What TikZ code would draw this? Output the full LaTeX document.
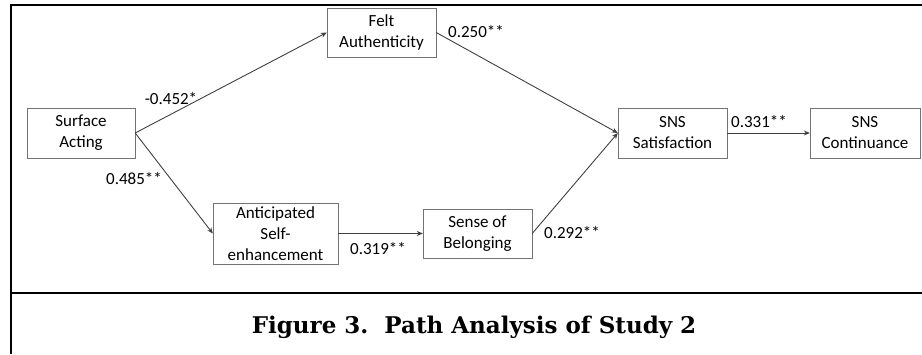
\documentclass[tikz,border=0pt]{standalone}
\usepackage{fontspec}
\usepackage{tikz}
\usetikzlibrary{arrows.meta,positioning,calc}
\newfontfamily\boxfont{Carlito}
\newfontfamily\capfont{DejaVu Serif}
\tikzstyle{pathbox}=[draw=black!55,minimum height=50pt,inner sep=0pt,align=center,font=\boxfont\fontsize{17}{21}\selectfont]
\tikzstyle{coef}=[inner sep=0pt,font=\boxfont\fontsize{17}{21}\selectfont]
\tikzstyle{link}=[draw=black!75,line width=0.9pt,-{Stealth[length=6pt,width=5pt]}]

\begin{document}
\begin{tikzpicture}[x=1pt,y=1pt,frame/.style={line width=2.2pt}]
    \useasboundingbox (0,0) rectangle (922,354);
    % frame and caption
    \draw [frame] (11,0) -- (11,349) -- (922,349);
    \draw [frame] (11,61) -- (922,61);
    \node [anchor=base,inner sep=0pt,font=\capfont\bfseries\fontsize{23}{28}\selectfont] (cap) at (474,21) {Figure 3.~~Path Analysis of Study 2};
    % boxes
    \node [pathbox,minimum width=108pt] (sa) at (81,221) {Surface\\Acting};
    \node [pathbox,minimum width=109pt,minimum height=49pt] (fa) at (381.5,321.5) {Felt\\Authenticity};
    \node [pathbox,minimum width=125pt,minimum height=61pt] (ase) at (275.5,120.5) {Anticipated\\Self-\\enhancement};
    \node [pathbox,minimum width=109pt,minimum height=49pt] (sob) at (477.5,120.5) {Sense of\\Belonging};
    \node [pathbox,minimum width=109pt] (sat) at (672.5,221) {SNS\\Satisfaction};
    \node [pathbox,minimum width=110pt] (con) at (865,221) {SNS\\Continuance};
    % paths
    \draw [link] (sa.east) -- (fa.west);
    \draw [link] (sa.east) -- (ase.west);
    \draw [link] (fa.east) -- (sat.west);
    \draw [link] (ase.east) -- (sob.west);
    \draw [link] (sob.east) -- (sat.west);
    \draw [link] (sat.east) -- (con.west);
    % coefficients
    \node [coef] (c1) at (171,255) {-0.452*};
    \node [coef] (c2) at (476,322) {0.250**};
    \node [coef] (c3) at (134,175) {0.485**};
    \node [coef] (c4) at (378,105) {0.319**};
    \node [coef] (c5) at (572,121) {0.292**};
    \node [coef] (c6) at (759,232) {0.331**};
\end{tikzpicture}
\end{document}
